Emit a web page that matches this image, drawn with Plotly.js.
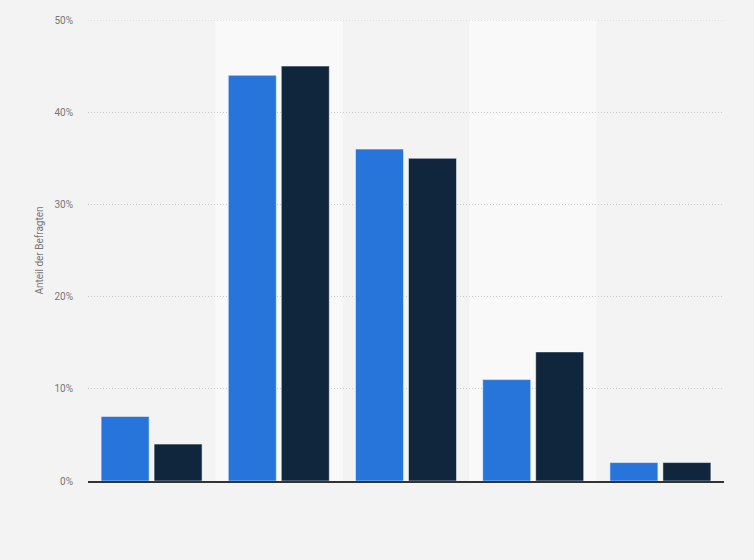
<!DOCTYPE html>
<html><head><meta charset="utf-8">
<script src="https://cdn.plot.ly/plotly-3.0.1.min.js"></script>
<style>html,body{margin:0;padding:0;background:#f3f3f3;}</style>
</head><body><div id="chart" style="width:754px;height:560px;"></div>
<script>
const categories = ['A', 'B', 'C', 'D', 'E'];
const series1 = [7, 44, 36, 11, 2];
const series2 = [4, 45, 35, 14, 2];
const yTicks = [0, 10, 20, 30, 40, 50];
const yTickLabels = ['0%', '10%', '20%', '30%', '40%', '50%'];
const yMax = 50;

const bands = [1, 3].map(i => ({
  type: 'rect', xref: 'x', yref: 'paper', x0: i - 0.5, x1: i + 0.5, y0: 0, y1: 1,
  fillcolor: '#f9f9f9', line: {width: 0}, layer: 'below'
}));
const topGrid = {type: 'line', xref: 'paper', yref: 'y', x0: 0, x1: 1, y0: yMax, y1: yMax,
  line: {color: '#cccccc', width: 1, dash: '1px,2px'}, layer: 'below'};

const traces = [
  {type: 'bar', x: categories, y: series1, name: 'Serie 1',
   marker: {color: '#2775db', line: {color: '#ffffff', width: 0.5}}},
  {type: 'bar', x: categories, y: series2, name: 'Serie 2',
   marker: {color: '#10263c', line: {color: '#ffffff', width: 0.5}}}
];

const layout = {
  width: 754, height: 560,
  paper_bgcolor: '#f3f3f3', plot_bgcolor: '#f3f3f3',
  margin: {l: 88, r: 30, t: 20, b: 79},
  barmode: 'group', bargap: 0.167, bargroupgap: 0.094,
  showlegend: false,
  shapes: bands.concat([topGrid]),
  font: {family: 'Roboto, "Open Sans", sans-serif', color: '#666'},
  xaxis: {showticklabels: false, showgrid: false, zeroline: false, ticks: '',
          showline: true, linecolor: '#333', linewidth: 1.5, fixedrange: true},
  yaxis: {range: [0, yMax], tickvals: yTicks, ticktext: yTickLabels,
          showgrid: true, gridcolor: '#cccccc', griddash: '1px,2px', gridwidth: 1,
          zeroline: false, ticks: '', ticklen: 0, ticklabelstandoff: 14,
          tickfont: {size: 10, color: '#777'},
          title: {text: 'Anteil der Befragten', font: {size: 10, color: '#777'}, standoff: 8}}
};

Plotly.newPlot('chart', traces, layout, {displayModeBar: false, staticPlot: true});
</script></body></html>
